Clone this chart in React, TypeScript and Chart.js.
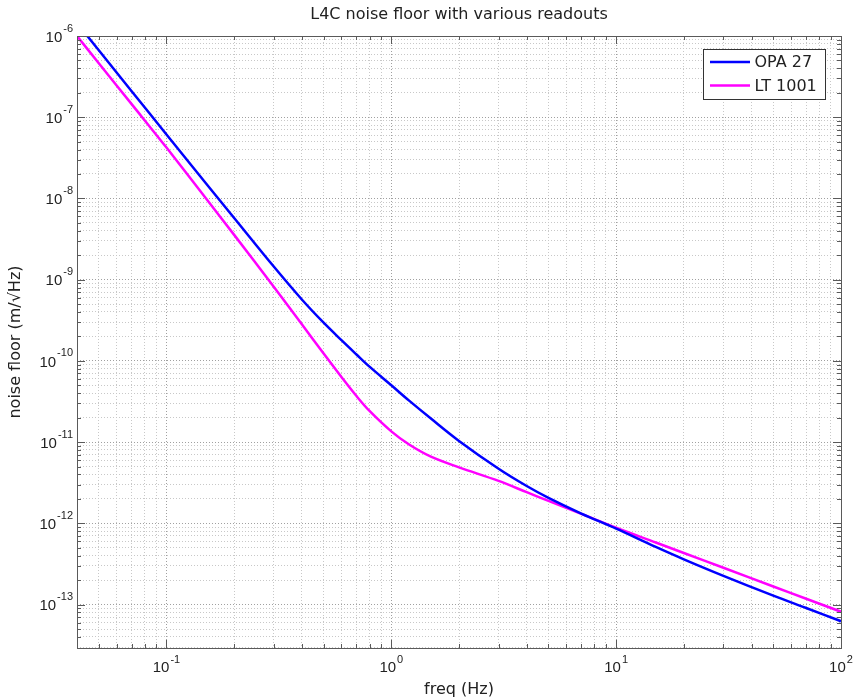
import { useEffect, useRef } from "react";
import { Chart, registerables } from "chart.js";

Chart.register(...registerables);

// ---- Data ----
const freqHz = [0.04, 0.05, 0.07, 0.1, 0.15, 0.2, 0.3, 0.4, 0.5, 0.6, 0.7, 0.8, 1.0, 1.2, 1.5, 2, 3, 4, 5, 7, 10, 15, 20, 30, 50, 70, 100];
const opa27Noise = [1.44e-6, 6.67e-7, 2.09e-7, 6.14e-8, 1.53e-8, 5.75e-9, 1.45e-9, 5.7e-10, 2.95e-10, 1.8e-10, 1.2e-10, 8.49e-11, 5.01e-11, 3.24e-11, 1.95e-11, 1.035e-11, 4.7e-12, 2.88e-12, 2.06e-12, 1.32e-12, 8.59e-13, 5.13e-13, 3.61e-13, 2.26e-13, 1.29e-13, 9.08e-14, 6.24e-14];
const lt1001Noise = [1.0e-6, 4.62e-7, 1.45e-7, 4.23e-8, 1.0e-8, 3.56e-9, 8.2e-10, 2.82e-10, 1.23e-10, 6.34e-11, 3.69e-11, 2.42e-11, 1.355e-11, 9.33e-12, 6.61e-12, 4.89e-12, 3.33e-12, 2.42e-12, 1.89e-12, 1.31e-12, 8.83e-13, 5.81e-13, 4.32e-13, 2.84e-13, 1.67e-13, 1.18e-13, 8.17e-14];
const seriesLabels = ["OPA 27", "LT 1001"];
const seriesColors = ["#0000ff", "#ff00ff"];
const xRange = [0.04, 100];
const yRange = [2.92e-14, 1e-6];
const titleText = "L4C noise floor with various readouts";
const xTitle = "freq (Hz)";
const yTitle = "noise floor (m/\u221AHz)";

const FONT = '"DejaVu Sans", "Liberation Sans", sans-serif';
const TICK_FONT = '"Liberation Sans", Arial, sans-serif';
const AXIS_COLOR = "#5a5a5a";
const GRID_MAJOR = "#a0a0a0";
const GRID_MINOR = "#c8c8c8";

const isDecade = (v: number) => {
  const l = Math.log10(v);
  return Math.abs(l - Math.round(l)) < 1e-6;
};

function logTicks(min: number, max: number) {
  const out: { value: number }[] = [];
  const e0 = Math.floor(Math.log10(min));
  const e1 = Math.ceil(Math.log10(max));
  for (let e = e0; e <= e1; e++) {
    for (let n = 1; n <= 9; n++) {
      const v = parseFloat((n * Math.pow(10, e)).toPrecision(6));
      if (v >= min * (1 - 1e-9) && v <= max * (1 + 1e-9)) out.push({ value: v });
    }
  }
  return out;
}

const decorPlugin = {
  id: "decor",
  afterDatasetsDraw(chart: any) {
    const { ctx, chartArea: a } = chart;
    const xs = chart.scales.x;
    const ys = chart.scales.y;
    ctx.save();
    // tick marks (inward, all four sides)
    ctx.strokeStyle = AXIS_COLOR;
    ctx.lineWidth = 1;
    ctx.beginPath();
    xs.ticks.forEach((t: any) => {
      const px = Math.round(xs.getPixelForValue(t.value)) + 0.5;
      if (px <= a.left + 1 || px >= a.right - 1) return;
      const len = isDecade(t.value) ? 8 : 4;
      ctx.moveTo(px, a.bottom);
      ctx.lineTo(px, a.bottom - len);
      ctx.moveTo(px, a.top);
      ctx.lineTo(px, a.top + len);
    });
    ys.ticks.forEach((t: any) => {
      const py = Math.round(ys.getPixelForValue(t.value)) + 0.5;
      if (py <= a.top + 1 || py >= a.bottom - 1) return;
      const len = isDecade(t.value) ? 8 : 4;
      ctx.moveTo(a.left, py);
      ctx.lineTo(a.left + len, py);
      ctx.moveTo(a.right, py);
      ctx.lineTo(a.right - len, py);
    });
    ctx.stroke();
    // axes box
    ctx.strokeRect(Math.round(a.left) + 0.5, Math.round(a.top) + 0.5, Math.round(a.right - a.left), Math.round(a.bottom - a.top));

    // tick labels 10^n
    const baseFont = `15px ${TICK_FONT}`;
    const expFont = `11px ${TICK_FONT}`;
    ctx.fillStyle = "#222";
    ctx.textBaseline = "middle";
    ctx.textAlign = "left";
    xs.ticks.forEach((t: any) => {
      if (!isDecade(t.value)) return;
      const e = String(Math.round(Math.log10(t.value)));
      const px = xs.getPixelForValue(t.value);
      ctx.font = baseFont;
      const wb = ctx.measureText("10").width;
      ctx.font = expFont;
      const we = ctx.measureText(e).width;
      const x0 = px - (wb + 1 + we) / 2;
      ctx.font = baseFont;
      ctx.fillText("10", x0, a.bottom + 20);
      ctx.font = expFont;
      ctx.fillText(e, x0 + wb + 1, a.bottom + 12);
    });
    ys.ticks.forEach((t: any) => {
      if (!isDecade(t.value)) return;
      const e = String(Math.round(Math.log10(t.value)));
      const py = ys.getPixelForValue(t.value);
      ctx.font = baseFont;
      const wb = ctx.measureText("10").width;
      ctx.font = expFont;
      const we = ctx.measureText(e).width;
      const xr = a.left - 4;
      const x0 = xr - we - 1 - wb;
      ctx.font = baseFont;
      ctx.fillText("10", x0, py + 1.5);
      ctx.font = expFont;
      ctx.fillText(e, x0 + wb + 1, py - 7.5);
    });

    // legend box
    const ds = chart.data.datasets;
    const bw = 122;
    const bh = 50;
    const bx = Math.round(a.right - 16 - bw) + 0.5;
    const by = Math.round(a.top + 13) + 0.5;
    ctx.fillStyle = "#fff";
    ctx.fillRect(bx, by, bw, bh);
    ctx.strokeStyle = "#333";
    ctx.lineWidth = 1;
    ctx.strokeRect(bx, by, bw, bh);
    ctx.font = `16px ${FONT}`;
    ctx.textBaseline = "middle";
    ds.forEach((d: any, i: number) => {
      const ly = by + 12.5 + i * 23.5;
      ctx.strokeStyle = d.borderColor;
      ctx.lineWidth = 2.5;
      ctx.beginPath();
      ctx.moveTo(bx + 6.5, ly);
      ctx.lineTo(bx + 46.5, ly);
      ctx.stroke();
      ctx.fillStyle = "#222";
      ctx.fillText(d.label, bx + 51, ly + 1);
    });
    ctx.restore();
  },
};

export default function App() {
  const ref = useRef<HTMLCanvasElement | null>(null);
  useEffect(() => {
    if (!ref.current) return;
    Chart.defaults.font.family = FONT;
    const mk = (vals: number[]) => freqHz.map((f, i) => ({ x: f, y: vals[i] }));
    const chart = new Chart(ref.current, {
      type: "line",
      data: {
        datasets: [
          { label: seriesLabels[0], data: mk(opa27Noise), borderColor: seriesColors[0], backgroundColor: seriesColors[0], borderWidth: 2.5, pointRadius: 0, tension: 0.35, clip: 0 } as any,
          { label: seriesLabels[1], data: mk(lt1001Noise), borderColor: seriesColors[1], backgroundColor: seriesColors[1], borderWidth: 2.5, pointRadius: 0, tension: 0.35, clip: 0 } as any,
        ],
      },
      options: {
        responsive: false,
        animation: false,
        events: [],
        layout: { padding: { left: 6, right: 14, top: 0, bottom: 1 } },
        plugins: {
          legend: { display: false },
          tooltip: { enabled: false },
          title: {
            display: true,
            text: titleText,
            fullSize: false,
            color: "#222",
            font: { size: 16, weight: "normal", family: FONT },
            padding: { top: 5, bottom: 11.8 },
          },
        },
        scales: {
          x: {
            type: "logarithmic",
            position: "bottom",
            min: xRange[0],
            max: xRange[1],
            afterBuildTicks: (s: any) => { s.ticks = logTicks(xRange[0], xRange[1]); },
            afterFit: (s: any) => { s.height = 51; },
            ticks: { display: false },
            grid: {
              drawTicks: false,
              tickLength: 0,
              lineWidth: 1,
              color: (c: any) => (c.tick && isDecade(c.tick.value) ? GRID_MAJOR : GRID_MINOR),
            },
            border: { display: false, dash: [1, 2] },
            title: { display: true, text: xTitle, color: "#222", font: { size: 16, family: FONT }, padding: { top: 0, bottom: 0 } },
          },
          y: {
            type: "logarithmic",
            position: "left",
            min: yRange[0],
            max: yRange[1],
            afterBuildTicks: (s: any) => { s.ticks = logTicks(yRange[0], yRange[1]); },
            afterFit: (s: any) => { s.width = 71; },
            ticks: { display: false },
            grid: {
              drawTicks: false,
              tickLength: 0,
              lineWidth: 1,
              color: (c: any) => (c.tick && isDecade(c.tick.value) ? GRID_MAJOR : GRID_MINOR),
            },
            border: { display: false, dash: [1, 2] },
            title: { display: true, text: yTitle, color: "#222", font: { size: 16, family: FONT }, padding: { top: 0, bottom: 0 } },
          },
        },
      },
      plugins: [decorPlugin],
    });
    return () => chart.destroy();
  }, []);
  return (
    <div style={{ position: "fixed", left: 0, top: 0, width: 855, height: 700, background: "#fff" }}>
      <canvas ref={ref} width={855} height={700} style={{ display: "block" }} />
    </div>
  );
}
